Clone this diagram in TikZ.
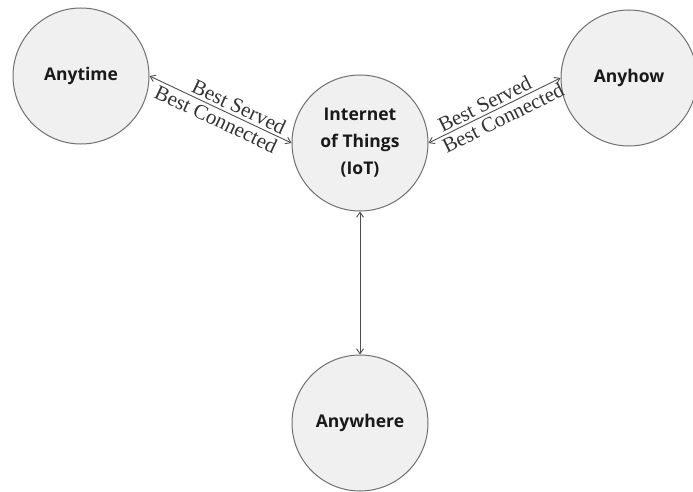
\documentclass[tikz,border=0pt]{standalone}
\usepackage{fontspec}
\setmainfont{Liberation Serif}
\newfontfamily\nodefont{Open Sans}
\usetikzlibrary{arrows.meta}
\definecolor{circfill}{HTML}{F0F0F0}
\definecolor{circline}{HTML}{707070}
\definecolor{arrline}{HTML}{505050}
\begin{document}
\begin{tikzpicture}[x=1pt,y=-1pt,
  hub/.style={circle,draw=circline,fill=circfill,line width=1pt,minimum size=136pt,inner sep=0pt,
    font=\nodefont\bfseries\fontsize{17.5}{27}\selectfont,align=center,text=black!90},
  link/.style={draw=arrline,line width=0.9pt,{Straight Barb[length=5pt,width=7pt]}-{Straight Barb[length=5pt,width=7pt]}},
  lbl/.style={sloped,font=\fontsize{21}{21}\selectfont,text=black!80,inner sep=2.5pt}]
\useasboundingbox (0,0) rectangle (693,492);
\fill[white] (0,0) rectangle (693,492);
\node[hub] (time) at (81,76) {Anytime};
\node[hub] (iot) at (360,143) {Internet\\of Things\\(IoT)};
\node[hub] (how) at (629,78) {Anyhow};
\node[hub] (where) at (360,423) {Anywhere};
\draw[link] (time.east) -- node[lbl,above,pos=0.6] {Best Served} node[lbl,below,pos=0.5] {Best Connected} (iot.west);
\draw[link] (iot.east) -- node[lbl,above,pos=0.46] {Best Served} node[lbl,below,pos=0.53] {Best Connected} (how.west);
\draw[link] (iot.south) -- (where.north);
\end{tikzpicture}
\end{document}
